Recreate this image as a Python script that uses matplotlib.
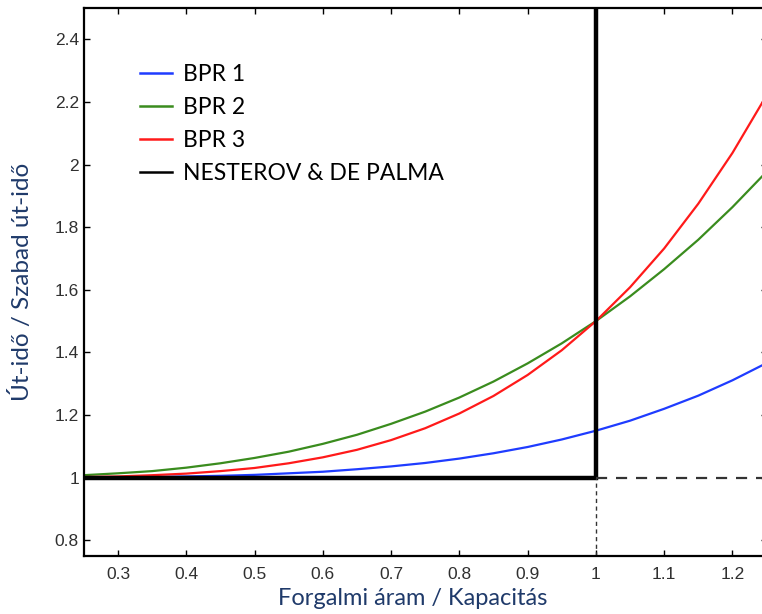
import matplotlib
matplotlib.use("Agg")
import matplotlib.pyplot as plt

# data
flow = [0.25, 0.30, 0.35, 0.40, 0.45, 0.50, 0.55, 0.60, 0.65, 0.70, 0.75,
        0.80, 0.85, 0.90, 0.95, 1.00, 1.05, 1.10, 1.15, 1.20, 1.25]
bpr1 = [1.001, 1.001, 1.002, 1.004, 1.006, 1.009, 1.014, 1.019, 1.027, 1.036, 1.047,
        1.061, 1.078, 1.098, 1.122, 1.150, 1.182, 1.220, 1.262, 1.311, 1.366]
bpr2 = [1.008, 1.014, 1.021, 1.032, 1.046, 1.063, 1.083, 1.108, 1.137, 1.172, 1.211,
        1.256, 1.307, 1.365, 1.429, 1.500, 1.579, 1.666, 1.760, 1.864, 1.977]
bpr3 = [1.002, 1.004, 1.008, 1.013, 1.021, 1.031, 1.046, 1.065, 1.089, 1.120, 1.158,
        1.205, 1.261, 1.328, 1.407, 1.500, 1.608, 1.732, 1.875, 2.037, 2.221]
nest_x = [0.25, 1.0, 1.0]
nest_y = [1.0, 1.0, 2.6]
xticks = [0.3, 0.4, 0.5, 0.6, 0.7, 0.8, 0.9, 1.0, 1.1, 1.2]
xtick_labels = ['0.3', '0.4', '0.5', '0.6', '0.7', '0.8', '0.9', '1', '1.1', '1.2']
yticks = [0.8, 1.0, 1.2, 1.4, 1.6, 1.8, 2.0, 2.2, 2.4]
ytick_labels = ['0.8', '1', '1.2', '1.4', '1.6', '1.8', '2', '2.2', '2.4']

fig = plt.figure(figsize=(7.62, 6.14), dpi=100)
ax = fig.add_axes([0.110, 0.0945, 0.896, 0.8925])

ax.plot(flow, bpr1, color='#1f3cff', lw=1.6, label='BPR 1')
ax.plot(flow, bpr2, color='#3a8c1e', lw=1.6, label='BPR 2')
ax.plot(flow, bpr3, color='#ff1a1a', lw=1.6, label='BPR 3')
ax.plot(nest_x, nest_y, color='black', lw=3.2, label='NESTEROV & DE PALMA',
        solid_joinstyle='miter')

# reference lines beyond capacity
ax.plot([1.0, 1.25], [1.0, 1.0], color='#333333', lw=1.6, ls=(0, (5, 4)))
ax.plot([1.0, 1.0], [0.75, 1.0], color='#333333', lw=1.0, ls=(0, (3, 2.5)))

ax.set_xlim(0.25, 1.25)
ax.set_ylim(0.75, 2.5)
ax.set_xticks(xticks)
ax.set_xticklabels(xtick_labels, fontsize=12.5, family='Liberation Sans',
                   color='#303030')
ax.set_yticks(yticks)
ax.set_yticklabels(ytick_labels, fontsize=12.5, family='Liberation Sans',
                   color='#303030')
ax.tick_params(direction='in', top=True, right=True, length=4, width=1)
ax.tick_params(axis='x', pad=8)
ax.tick_params(axis='y', pad=3.5)
for sp in ax.spines.values():
    sp.set_linewidth(1.6)

ax.set_xlabel('Forgalmi áram / Kapacitás', fontsize=17, color='#1f3a6a',
              family='Lato', va='center')
ax.set_ylabel('Út-idő / Szabad út-idő', fontsize=17.5, color='#1f3a6a',
              family='Lato', va='center')
ax.xaxis.set_label_coords(0.482, -0.077)
ax.yaxis.set_label_coords(-0.091, 0.5)

leg = ax.legend(loc='upper left', bbox_to_anchor=(0.082, 0.897), frameon=False,
                prop={'family': 'Lato', 'size': 16.5}, handlelength=1.4,
                handletextpad=0.5, labelspacing=0.52, borderpad=0,
                borderaxespad=0)
for h in leg.get_lines():
    h.set_linewidth(1.8)

fig.savefig('out.png', dpi=100)
